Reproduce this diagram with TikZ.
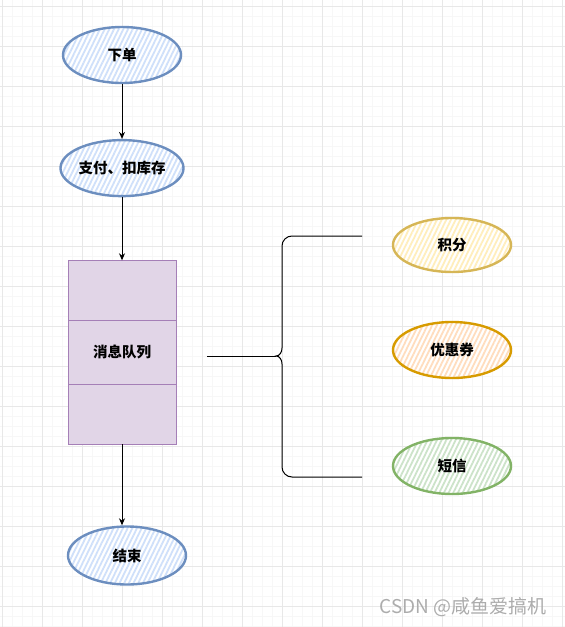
\documentclass[tikz,border=0pt]{standalone}
\usepackage{fontspec}
\newfontfamily\cjk{Noto Sans CJK SC}
\usetikzlibrary{positioning,shapes.geometric,patterns.meta,arrows.meta}

\definecolor{blueline}{HTML}{6C8EBF}
\definecolor{bluefill}{HTML}{CFE0FA}
\definecolor{yellowline}{HTML}{D6B656}
\definecolor{yellowfill}{HTML}{FFEEBC}
\definecolor{orangeline}{HTML}{D79B00}
\definecolor{orangefill}{HTML}{FFDDBE}
\definecolor{greenline}{HTML}{82B366}
\definecolor{greenfill}{HTML}{CCE3C9}
\definecolor{queueline}{HTML}{A57FB7}
\definecolor{queuefill}{HTML}{E1D5E7}
\definecolor{minorgrid}{HTML}{F7F7F7}
\definecolor{majorgrid}{HTML}{E8E8E8}

\begin{document}
\begin{tikzpicture}[x=1pt,y=1pt]
		\tikzset{term/.style n args={2}{ellipse,
								draw=#1,
								line width=2.4pt,
								preaction={fill=white},
								pattern={Lines[angle=64,distance=4.2pt,line width=1.8pt]},
								pattern color=#2,
								minimum width=118pt,
								minimum height=56pt,
								inner sep=0pt,
								font=\cjk\bfseries\fontsize{14.5}{17}\selectfont},
				 cell/.style={draw=queueline,
							  fill=queuefill,
							  line width=0.8pt,
							  outer sep=0pt,
							  minimum width=108pt,
							  minimum height=60pt,
							  inner sep=0pt,
							  font=\cjk\bfseries\fontsize{14.5}{17}\selectfont},
				 arrow/.style={-{Stealth[length=7pt,width=6pt]},
							   line width=1pt},
				 link/.style={line width=1pt}}
		\useasboundingbox (0,0) rectangle (565,-627);

		% Grid
		\begin{scope}
			\clip (0,0) rectangle (565,-627);
			\draw[minorgrid, line width=0.6pt, step=10pt, shift={(2.7,-6)}] (-20,20) grid (580,-640);
			\draw[majorgrid, line width=0.8pt, step=40pt, shift={(2.7,-6)}] (-40,40) grid (600,-680);
		\end{scope}

		% Nodes
		\node[term={blueline}{bluefill}] (order) at (122,-55) {下单};
		\node[term={blueline}{bluefill}, below=55pt of order] (pay) {支付、扣库存};
		\node[cell, below=63pt of pay] (mqtop) {};
		\node[cell, minimum height=64pt, below=0pt of mqtop] (mq) {消息队列};
		\node[cell, below=0pt of mq] (mqbot) {};
		\node[term={blueline}{bluefill}, minimum height=58pt, below=81pt of mqbot, xshift=5pt] (done) {结束};

		\node[term={yellowline}{yellowfill}, minimum height=54pt] (points) at (452,-245) {积分};
		\node[term={orangeline}{orangefill}] (coupon) at (452,-350) {优惠券};
		\node[term={greenline}{greenfill}] (sms) at (452,-466) {短信};

		\node[text=gray!65, font=\cjk\fontsize{19}{22}\selectfont] (credit) at (463,-607) {CSDN @咸鱼爱搞机};

		% Arrows
		\draw[arrow] (order) -- (pay);
		\draw[arrow] (pay) -- (mqtop);
		\draw[arrow] (mqbot) -- (mqbot.south |- done.north);

		% Brace
		\coordinate (fanout) at (207,-356);
		\coordinate (cusp) at (276,-356);
		\coordinate (bracetop) at (362,-236);
		\coordinate (bracebot) at (362,-477);
		\draw[link] (fanout) -- (cusp);
		\draw[link] (bracetop) -- (292,-236) to[out=180,in=90] (282,-246) -- (282,-348)
			to[out=-90,in=0] (cusp) to[out=0,in=90] (282,-364) -- (282,-467)
			to[out=-90,in=180] (292,-477) -- (bracebot);
	\end{tikzpicture}
\end{document}
